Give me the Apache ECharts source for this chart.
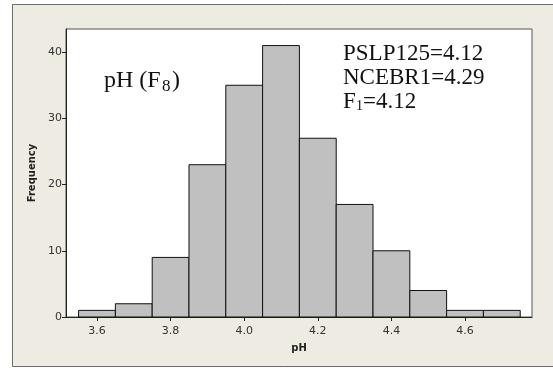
<!DOCTYPE html>
<html>
<head>
<meta charset="utf-8">
<script src="https://cdn.jsdelivr.net/npm/echarts@6/dist/echarts.min.js"></script>
<style>
html,body{margin:0;padding:0;background:#ffffff;}
#chart{width:553px;height:368px;}
</style>
</head>
<body>
<div id="chart"></div>
<script>
// Histogram bins (pH) and frequencies
const binStarts = [3.55, 3.65, 3.75, 3.85, 3.95, 4.05, 4.15, 4.25, 4.35, 4.45, 4.55, 4.65];
const binWidth = 0.1;
const frequencies = [1, 2, 9, 23, 35, 41, 27, 17, 10, 4, 1, 1];
const xTicks = [3.6, 3.8, 4.0, 4.2, 4.4, 4.6];
const yTicks = [0, 10, 20, 30, 40];

const chart = echarts.init(document.getElementById('chart'));
const data = binStarts.map((s, i) => [s, s + binWidth, frequencies[i]]);
const serif = '"Liberation Serif"';

const option = {
  backgroundColor: 'transparent',
  animation: false,
  graphic: [
    { type: 'rect', z: -10, shape: { x: 12.5, y: 4.5, width: 560, height: 362 },
      style: { fill: '#eeebe2', stroke: '#6b6b6b', lineWidth: 1 } },
    { type: 'text', left: 104, top: 69, z: 10,
      style: { text: 'pH (F', font: '24px ' + serif, fill: '#111' } },
    { type: 'text', left: 162, top: 78, z: 10,
      style: { text: '8', font: '17px ' + serif, fill: '#111' } },
    { type: 'text', left: 172, top: 69, z: 10,
      style: { text: ')', font: '24px ' + serif, fill: '#111' } },
    { type: 'text', left: 343, top: 42, z: 10,
      style: { text: 'PSLP125=4.12', font: '23px ' + serif, fill: '#111' } },
    { type: 'text', left: 343, top: 66, z: 10,
      style: { text: 'NCEBR1=4.29', font: '23px ' + serif, fill: '#111' } },
    { type: 'text', left: 343, top: 90, z: 10,
      style: { text: 'F', font: '23px ' + serif, fill: '#111' } },
    { type: 'text', left: 356, top: 99, z: 10,
      style: { text: '1', font: '14px ' + serif, fill: '#111' } },
    { type: 'text', left: 363, top: 90, z: 10,
      style: { text: '=4.12', font: '23px ' + serif, fill: '#111' } }
  ],
  grid: {
    left: 66, top: 29, right: 21, bottom: 51,
    show: true, backgroundColor: '#ffffff', borderColor: '#555555', borderWidth: 1
  },
  xAxis: {
    type: 'value', min: 3.5158, max: 4.782,
    name: 'pH', nameLocation: 'middle', nameGap: 26,
    nameTextStyle: { fontFamily: 'DejaVu Sans', fontWeight: 'bold', fontSize: 10, color: '#222' },
    axisLine: { show: true, onZero: false, lineStyle: { color: '#222', width: 1 } },
    axisTick: { show: true, inside: false, length: 4, lineStyle: { color: '#222' }, customValues: xTicks },
    axisLabel: { color: '#333', fontFamily: 'DejaVu Sans', fontSize: 11, margin: 9,
      customValues: xTicks, formatter: v => v.toFixed(1) },
    splitLine: { show: false }
  },
  yAxis: {
    type: 'value', min: 0, max: 43.5,
    name: 'Frequency', nameLocation: 'middle', nameGap: 25, nameRotate: 90,
    nameTextStyle: { fontFamily: 'DejaVu Sans', fontWeight: 'bold', fontSize: 10, color: '#222' },
    axisLine: { show: true, lineStyle: { color: '#222', width: 1 } },
    axisTick: { show: true, inside: false, length: 4, lineStyle: { color: '#222' }, customValues: yTicks },
    axisLabel: { color: '#333', fontFamily: 'DejaVu Sans', fontSize: 11, margin: 4,
      customValues: yTicks },
    splitLine: { show: false }
  },
  series: [{
    type: 'custom',
    data: data,
    encode: { x: [0, 1], y: 2 },
    renderItem: function (params, api) {
      const p0 = api.coord([api.value(0), 0]);
      const p1 = api.coord([api.value(1), api.value(2)]);
      return {
        type: 'rect',
        shape: { x: p0[0], y: p1[1], width: p1[0] - p0[0], height: p0[1] - p1[1] },
        style: { fill: '#c0c0c0', stroke: '#111111', lineWidth: 1 }
      };
    }
  }]
};
chart.setOption(option);
</script>
</body>
</html>
